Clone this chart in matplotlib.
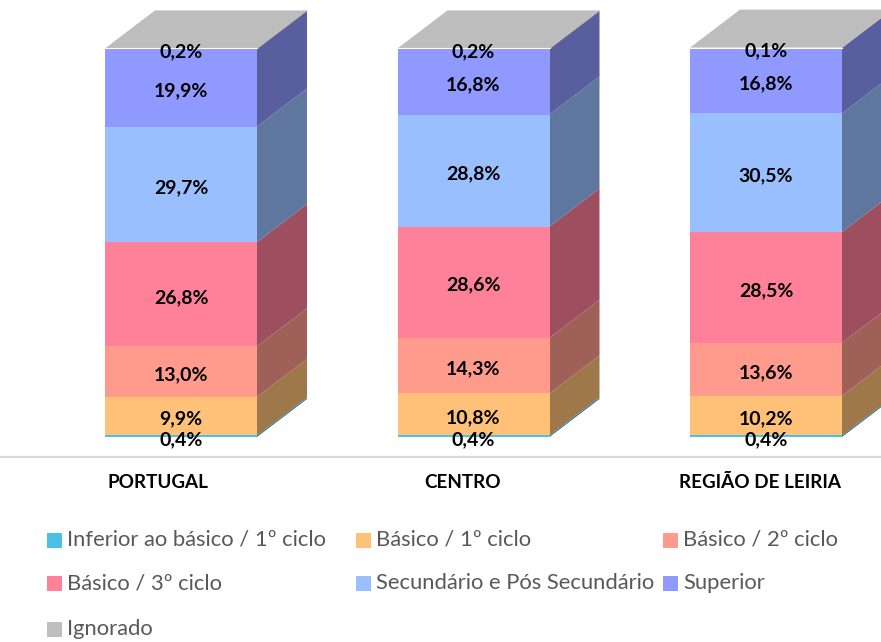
import numpy as np
import matplotlib.pyplot as plt
from matplotlib.patches import Polygon, Rectangle
from matplotlib.colors import to_rgb
from matplotlib.transforms import offset_copy

plt.rcParams['font.family'] = ['Lato', 'DejaVu Sans']

# data
categories = ["PORTUGAL", "CENTRO", "REGIÃO DE LEIRIA"]
labels = ["Inferior ao básico / 1º ciclo", "Básico / 1º ciclo", "Básico / 2º ciclo",
          "Básico / 3º ciclo", "Secundário e Pós Secundário", "Superior", "Ignorado"]
inferior = [0.4, 0.4, 0.4]
basico1 = [9.9, 10.8, 10.2]
basico2 = [13.0, 14.3, 13.6]
basico3 = [26.8, 28.6, 28.5]
secundario = [29.7, 28.8, 30.5]
superior = [19.9, 16.8, 16.8]
ignorado = [0.2, 0.2, 0.1]
series = [inferior, basico1, basico2, basico3, secundario, superior, ignorado]

colors = ["#4DC0E6", "#FFC177", "#FF9B8C", "#FF8099", "#99BFFF", "#8F99FF", "#BFBFBF"]

W, H = 881, 642
fig = plt.figure(figsize=(W / 100, H / 100), dpi=100)

# axes: y=0 at px 437, y=100 at px 48
ax = fig.add_axes([0, (H - 437) / H, 1, 389 / H])
step = 292.5
ax.set_xlim(-181 / step, (W - 181) / step)
ax.set_ylim(0, 100)
ax.axis('off')

width = 152 / step
dx = 50 / step
dy = 38 / 3.89


def shade(c, f=0.62):
    r, g, b = to_rgb(c)
    return (r * f, g * f, b * f)


x = np.arange(len(categories))
bottom = np.zeros(len(categories))
for vals, col in zip(series, colors):
    vals = np.array(vals)
    ax.bar(x, vals, width, bottom=bottom, color=col, linewidth=0, clip_on=False, zorder=2)
    for i in range(len(x)):
        x1 = x[i] + width / 2
        y0, y1 = bottom[i], bottom[i] + vals[i]
        side = Polygon([(x1, y0), (x1 + dx, y0 + dy), (x1 + dx, y1 + dy), (x1, y1)],
                       closed=True, facecolor=shade(col), edgecolor='none',
                       clip_on=False, zorder=1)
        ax.add_patch(side)
    bottom = bottom + vals

# top faces
for i in range(len(x)):
    x0, x1 = x[i] - width / 2, x[i] + width / 2
    t = bottom[i]
    ax.add_patch(Polygon([(x0, t), (x1, t), (x1 + dx, t + dy), (x0 + dx, t + dy)],
                         closed=True, facecolor="#BDBDBD", edgecolor='none',
                         clip_on=False, zorder=2))
    ax.plot([x0, x1], [t, t], color='white', lw=0.8, zorder=3, clip_on=False)

# value labels (nudged down a few px to sit like the original)
lab_tr = offset_copy(ax.transData, fig=fig, x=0, y=-2.2, units='points')
bottom = np.zeros(len(categories))
for vals in series:
    vals = np.array(vals)
    for i in range(len(x)):
        txt = f"{vals[i]:.1f}".replace('.', ',') + '%'
        ax.text(x[i], bottom[i] + vals[i] / 2, txt, ha='center', va='center',
                fontsize=14, fontweight='bold', color='black', zorder=5,
                transform=lab_tr)
    bottom = bottom + vals

# floor line
fig.add_artist(plt.Line2D([0, 1], [1 - 457 / H, 1 - 457 / H], color='#D9D9D9', lw=1.6))

# category labels
cat_px = [158, 463, 760]
for name, px in zip(categories, cat_px):
    fig.text(px / W, 1 - 483 / H, name, ha='center', va='center',
             fontsize=13.6, fontweight='bold', color='black')

# legend (manual, fixed columns like the original)
col_px = [47, 356, 663]
row_px = [540, 583, 629]
sw = 15
for k, (lab, col) in enumerate(zip(labels, colors)):
    cx = col_px[k % 3]
    cy = row_px[k // 3]
    fig.add_artist(Rectangle((cx / W, 1 - (cy + sw / 2) / H), sw / W, sw / H,
                             transform=fig.transFigure, facecolor=col, edgecolor='none'))
    fig.text((cx + sw + 5) / W, 1 - cy / H, lab, ha='left', va='center',
             fontsize=15.8, color='#595959')

fig.savefig('out.png', dpi=100)
